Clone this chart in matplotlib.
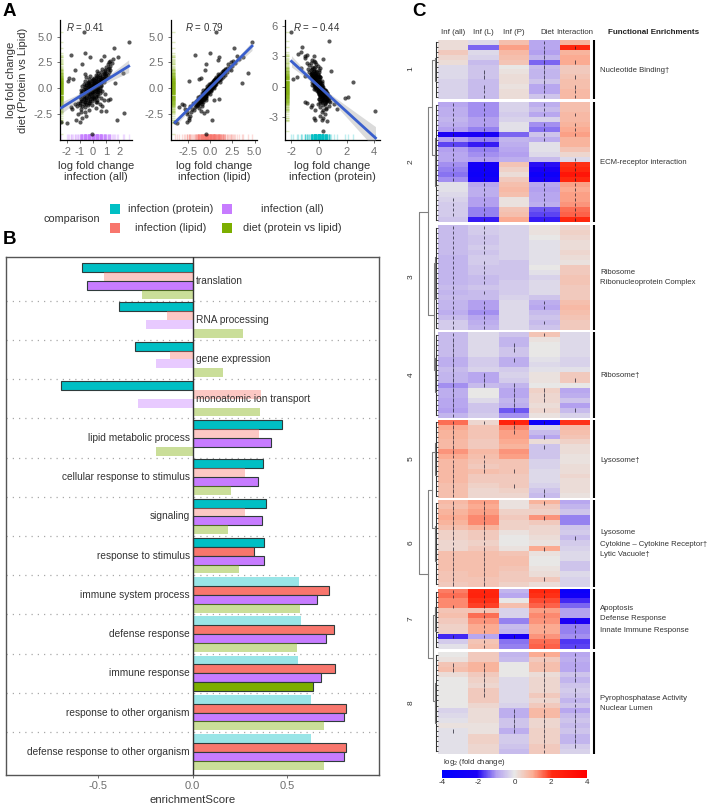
import matplotlib

matplotlib.use("Agg")
import matplotlib.pyplot as plt
import numpy as np
from matplotlib.colors import LinearSegmentedColormap, to_rgba
from matplotlib.cm import ScalarMappable
from matplotlib.colors import Normalize
from matplotlib.patches import Rectangle

plt.rcParams["font.family"] = ["Liberation Sans", "DejaVu Sans"]
plt.rcParams["axes.unicode_minus"] = False
plt.rcParams["mathtext.fontset"] = "custom"
plt.rcParams["mathtext.rm"] = "Liberation Sans"
plt.rcParams["mathtext.it"] = "Liberation Sans:italic"

# panel A, one value per gene
diet = [5.4, 4.5, 3.9, 3.4, 3.2, 3.1, 3.0, 3.0, 2.8, 2.7, -3.3, -3.4, -3.1, -3.1, -3.3, -2.4, -4.4,
        0.5, -1.0, -1.1, -1.7, -2.2, 0.7, 0.9, -1.6, -1.5, 1.0, -2.2, 1.8, 1.5, -2.0, -2.3, -1.8, 2.3,
        2.6, 2.5, 2.4, 2.3, 2.2, 2.1, 2.0, 1.9, 1.8, 1.8, 1.7, 1.6, 1.5, 1.5, 1.4, 1.4, 1.3, 1.2, 1.2, 1.1,
        1.1, 1.0, 1.0, 0.9, 0.9, 0.8, 0.8, 0.8, 0.7, 0.7, 0.6, 0.6, 0.6, 0.5, 0.5, 0.5, 0.4, 0.4, 0.4, 0.3,
        0.3, 0.3, 0.2, 0.2, 0.2, 0.1, 0.1, 0.1, 0.0, 0.0, 0.0, -0.1, -0.1, -0.1, -0.2, -0.2, -0.2, -0.3, -0.3, -0.3,
        -0.4, -0.4, -0.4, -0.5, -0.5, -0.5, -0.6, -0.6, -0.6, -0.7, -0.7, -0.7, -0.8, -0.8, -0.8, -0.9, -0.9, -0.9,
        -1.0, -1.0, -1.1, -1.1, -1.2, -1.2, -1.3, -1.3, -1.4, -1.4, -1.5, -1.5, -1.6, -1.7, -1.8, -1.9, -2.0, -2.1,
        -2.3, -2.5, -2.7, -2.9,
        1.9, 1.7, 1.6, 1.5, 1.4, 1.3, 1.3, 1.2, 1.2, 1.1,
        1.1, 1.0, 1.0, 0.9, 0.9, 0.9, 0.8, 0.8, 0.7, 0.7,
        0.7, 0.6, 0.6, 0.6, 0.5, 0.5, 0.5, 0.4, 0.4, 0.4,
        0.3, 0.3, 0.3, 0.2, 0.2, 0.2, 0.1, 0.1, 0.1, 0.0,
        0.0, 0.0, -0.1, -0.1, -0.1, -0.2, -0.2, -0.2, -0.3, -0.3,
        -0.3, -0.4, -0.4, -0.4, -0.5, -0.5, -0.5, -0.6, -0.6, -0.6,
        -0.7, -0.7, -0.7, -0.8, -0.8, -0.9, -0.9, -1.0, -1.0, -1.1,
        -1.1, -1.2, -1.2, -1.3, -1.3, -1.4, -1.4, -1.5, -1.6, -1.7]
inf_all = [-0.7, 2.7, 1.6, -0.6, -1.7, 0.8, 1.9, -0.2, 1.5, 0.6, -2.4, -2.0, -1.3, 1.8, -1.0, 2.35, -0.1,
           1.7, 1.3, 1.1, 0.7, 1.0, -1.9, -1.5, -1.0, -1.4, -1.8, 0.6, -1.4, 2.3, -1.6, -0.9, -1.7, -0.8,
           1.3, 1.2, 1.4, 1.1, 1.3, 1.0, 1.2, 0.7, 0.9, 1.3, 0.3, 0.6, 1.0, 0.4, -0.6, 0.8, 0.2, 1.0, -0.2, 0.5,
           -0.5, 0.7, 0.1, -0.3, 0.4, 0.6, -0.1, 0.2, -0.6, 0.5, 0.1, -0.3, 0.8, 0.3, -0.4, 0.0, -0.7, 0.4, 0.1, -0.2,
           0.6, -0.5, 0.2, -0.1, -0.8, 0.3, 0.0, -0.4, 0.5, -0.2, 0.1, -0.6, 0.2, -0.1, 0.4, -0.3, -0.9, 0.1, -0.4, 0.7,
           -0.1, -0.6, 0.3, -0.2, -0.8, 0.5, 0.0, -0.4, 0.9, -0.1, -0.7, 0.4, -0.3, 0.2, -1.0, -0.5, 0.6, -0.1,
           -0.7, 0.1, -0.4, 0.8, -0.9, -0.2, -0.6, 0.3, -1.1, -0.3, -0.7, 0.5, -0.4, -1.2, -0.6, 0.2, -0.9, -0.3,
           -0.6, -1.1, -0.5, -0.8,
           1.1, 0.9, 1.2, 0.8, 0.9, 1.1, 0.5, 0.7, 0.3, 0.9,
           0.4, 0.8, 0.2, 0.6, 0.0, 0.9, 0.5, 0.1, 0.7, 0.3,
           -0.1, 0.5, 0.2, -0.4, 0.6, 0.1, -0.2, 0.5, 0.2, -0.3,
           0.4, 0.0, -0.5, 0.6, 0.1, -0.3, 0.3, -0.1, -0.6, 0.4,
           0.0, -0.4, 0.3, -0.2, -0.7, 0.5, 0.0, -0.5, 0.2, -0.3,
           -0.8, 0.4, -0.1, -0.5, 0.1, -0.4, -0.9, 0.3, -0.2, -0.6,
           0.2, -0.3, -0.8, 0.0, -0.5, 0.1, -0.7, -0.2, -0.9, 0.3,
           -0.5, -0.1, -0.8, 0.2, -0.6, -0.3, -1.0, -0.5, -0.1, -0.8]
inf_lipid = [0.7, 4.7, 2.7, 0.0, -1.7, 3.0, 3.7, 1.0, 3.3, 0.9, -3.9, -3.7, -2.4, 0.2, -2.6, -0.7, -0.5,
             3.6, 1.0, 0.4, -0.9, -0.3, -2.4, -1.2, -2.9, -3.1, -1.0, -1.0, -0.6, 4.3, -2.8, -2.6, -3.5, -0.5,
             2.6, 2.3, 2.8, 2.0, 2.5, 2.2, 1.9, 2.1, 1.7, 2.4, 1.5, 1.9, 1.4, 1.6, 0.9, 1.3, 1.7, 1.0, 1.2, 1.5,
             0.7, 1.1, 0.9, 0.6, 1.2, 1.0, 0.6, 0.9, 0.3, 0.8, 0.7, 0.4, 1.1, 0.5, 0.1, 0.6, -0.1, 0.7, 0.4, 0.3,
             0.6, 0.0, 0.4, 0.1, -0.3, 0.3, 0.0, -0.2, 0.4, -0.1, 0.1, -0.4, 0.0, -0.2, 0.1, -0.3, -0.8, -0.2, -0.5, 0.1,
             -0.3, -0.7, -0.2, -0.5, -0.9, -0.2, -0.5, -0.8, 0.0, -0.6, -1.1, -0.4, -0.9, -0.6, -1.4, -1.0, -0.5, -0.8,
             -1.3, -0.7, -1.1, -0.4, -1.6, -1.0, -1.4, -0.8, -1.9, -1.2, -1.6, -0.9, -1.5, -2.2, -1.7, -1.2, -2.0, -1.8,
             -2.1, -2.6, -2.2, -2.4,
             1.7, 1.4, 1.6, 1.2, 1.5, 1.0, 1.3, 1.1, 1.2, 0.9,
             1.0, 1.1, 0.8, 0.9, 0.6, 1.0, 0.8, 0.5, 0.8, 0.5,
             0.4, 0.7, 0.4, 0.3, 0.6, 0.3, 0.2, 0.5, 0.3, 0.1,
             0.4, 0.2, 0.0, 0.3, 0.1, 0.0, 0.2, 0.0, -0.1, 0.2,
             0.0, -0.2, 0.1, -0.2, -0.3, 0.0, -0.2, -0.4, -0.1, -0.4,
             -0.6, -0.2, -0.4, -0.6, -0.3, -0.5, -0.7, -0.4, -0.6, -0.8,
             -0.5, -0.7, -0.9, -0.6, -0.8, -0.7, -1.0, -0.9, -1.2, -0.8,
             -1.1, -1.0, -1.3, -1.0, -1.3, -1.2, -1.5, -1.4, -1.3, -1.6]
inf_protein = [-2.0, 0.7, -1.2, -1.3, -1.5, -0.9, -1.0, -0.4, -1.0, 0.3, -0.3, 0.6, -0.4, 0.3, 0.2, 4.1, 0.3,
               2.5, 2.1, 1.9, 1.1, 1.3, -1.9, -1.6, -0.9, -1.0, -1.0, 0.5, -1.3, 0.9, -0.6, -0.3, -0.5, -0.9,
               -0.5, -0.4, -0.3, -0.6, -0.2, -0.7, -0.1, -0.5, -0.4, 0.1, -0.8, -0.6, -0.2, -0.4, -0.7, 0.0, -0.5, -0.3, -0.6, -0.1,
               -0.5, -0.2, -0.4, -0.6, 0.1, -0.3, -0.2, -0.5, -0.4, 0.0, -0.3, -0.1, 0.2, -0.2, -0.4, 0.1, -0.3, -0.1, 0.2, -0.2,
               0.1, -0.4, 0.0, -0.1, -0.5, 0.2, -0.1, -0.3, 0.1, 0.0, -0.2, -0.2, 0.2, 0.0, 0.3, -0.1, -0.4, 0.1, 0.0, 0.4,
               0.2, -0.1, 0.3, 0.1, -0.1, 0.4, 0.2, 0.1, 0.6, 0.3, 0.0, 0.5, 0.2, 0.4, 0.1, 0.1, 0.6, 0.3,
               0.2, 0.5, 0.3, 0.7, 0.0, 0.4, 0.3, 0.6, 0.1, 0.5, 0.2, 0.8, 0.4, -0.1, 0.3, 0.7, 0.1, 0.5,
               0.3, 0.2, 0.4, 0.1,
               -0.3, -0.5, 0.0, -0.4, -0.2, -0.5, -0.3, -0.1, -0.6, -0.2,
               -0.4, 0.0, -0.3, -0.5, -0.1, 0.1, -0.4, -0.2, -0.5, 0.0,
               -0.3, -0.1, -0.4, -0.2, 0.1, -0.3, -0.5, 0.0, -0.2, -0.4,
               0.1, -0.1, -0.3, 0.2, 0.0, -0.2, 0.1, -0.4, -0.1, 0.3,
               -0.2, 0.0, 0.2, -0.3, 0.1, 0.3, -0.1, 0.0, 0.4, -0.2,
               0.1, 0.5, -0.1, 0.2, 0.3, 0.0, 0.4, 0.6, 0.1, 0.2,
               0.4, 0.0, 0.5, 0.2, 0.6, 0.3, 0.7, 0.1, 0.4, 0.7,
               0.2, 0.5, 0.0, 0.6, 0.3, 0.7, 0.2, 0.5, 0.1, 0.4]

scatter_xlabels = ["infection (all)", "infection (lipid)", "infection (protein)"]
scatter_r = ["0.41", "0.79", "\u2212 0.44"]

# panel B
terms = ["translation", "RNA processing", "gene expression", "monoatomic ion transport",
         "lipid metabolic process", "cellular response to stimulus", "signaling", "response to stimulus",
         "immune system process", "defense response", "immune response", "response to other organism",
         "defense response to other organism"]
es_protein = [-0.585, -0.39, -0.306, -0.698, 0.472, 0.375, 0.389, 0.38, 0.564, 0.572, 0.56, 0.625, 0.625]
es_lipid = [-0.47, -0.138, -0.12, 0.362, 0.35, 0.279, 0.279, 0.325, 0.721, 0.751, 0.753, 0.813, 0.813]
es_all = [-0.558, -0.247, -0.194, -0.292, 0.415, 0.346, 0.366, 0.376, 0.657, 0.705, 0.678, 0.80, 0.80]
es_diet = [-0.268, 0.265, 0.159, 0.359, -0.194, 0.201, 0.189, 0.246, 0.569, 0.553, 0.636, 0.694, 0.694]
sig_protein = [1, 1, 1, 1, 1, 1, 1, 1, 0, 0, 0, 0, 0]
sig_lipid = [0, 0, 0, 0, 0, 0, 0, 1, 1, 1, 1, 1, 1]
sig_all = [1, 0, 0, 0, 1, 1, 1, 1, 1, 1, 1, 1, 1]
sig_diet = [0, 0, 0, 0, 0, 0, 0, 0, 0, 0, 1, 0, 0]

comparisons = ["infection (protein)", "infection (lipid)", "infection (all)", "diet (protein vs lipid)"]
colors = ["#00BFC4", "#F8766D", "#C77CFF", "#7CAE00"]

# panel C, columns are Inf (all), Inf (L), Inf (P), Diet, Interaction
heat_columns = ["Inf (all)", "Inf (L)", "Inf (P)", "Diet", "Interaction"]
cluster1 = [[0.2, -0.2, 0.7, -0.9, 0.9], [0.2, -1.4, 1.1, -0.9, 2.2], [0.5, -0.2, 0.8, -1.0, 0.9],
            [0.3, -0.3, 0.7, -0.7, 1.0], [0.2, -0.6, 0.6, -1.4, 1.0], [-0.2, -0.5, 0.0, -0.6, 0.5],
            [-0.2, -0.5, 0.1, -0.7, 0.5], [-0.2, -0.5, 0.2, -0.7, 0.6], [-0.3, -0.6, 0.2, -0.5, 0.7],
            [-0.3, -0.6, 0.1, -0.9, 0.7], [-0.3, -0.6, 0.2, -0.9, 0.8], [-0.3, -0.6, 0.2, -0.5, 0.8]]
cluster2 = [[-0.9, -1.1, -0.3, -0.8, 0.7], [-0.8, -1.1, -0.3, -0.6, 0.7], [-0.8, -1.1, -0.4, -0.9, 0.8],
            [-0.7, -1.0, -0.3, -0.3, 0.8], [-0.8, -1.0, -0.1, -1.1, 0.9], [-1.0, -1.2, -0.1, -1.3, 1.0],
            [-2.1, -2.3, -1.4, -0.5, 1.1], [-1.0, -1.2, -0.7, -0.8, 0.9], [-1.6, -1.9, -0.8, -0.1, 0.9],
            [-1.0, -1.2, -0.9, -0.1, 0.6], [-0.9, -1.1, -1.0, -0.2, 0.3], [-0.9, -1.0, -0.8, -0.6, -0.2],
            [-1.1, -2.6, 0.6, -2.0, 2.0], [-1.2, -2.8, 0.4, -2.2, 2.2], [-1.3, -3.0, 0.2, -3.0, 3.0],
            [-1.1, -2.6, 0.5, -2.3, 2.2], [-0.1, -0.9, 0.7, -0.9, 1.1], [-0.1, -0.8, 0.8, -1.0, 1.0],
            [-0.2, -0.8, 0.7, -0.9, 1.1], [-0.3, -1.0, 0.1, -0.9, 1.1], [-0.4, -1.0, 0.1, -0.8, 1.2],
            [-0.4, -1.2, 0.6, -1.5, 1.5], [-0.4, -1.2, 0.7, -1.6, 1.6], [-0.5, -1.9, 1.0, -1.9, 2.1]]
cluster3 = [[-0.6, -0.4, -0.3, 0.1, 0.3], [-0.6, -0.4, -0.3, 0.1, 0.4], [-0.6, -0.5, -0.3, 0.0, 0.3],
            [-0.6, -0.5, -0.3, -0.1, 0.2], [-0.6, -0.4, -0.3, -0.1, 0.2], [-0.6, -0.5, -0.3, -0.1, 0.3],
            [-0.7, -0.4, -0.3, -0.1, 0.2], [-0.7, -0.4, -0.5, -0.1, 0.1], [-0.7, -0.5, -0.5, 0.0, 0.5],
            [-0.7, -0.5, -0.5, -0.1, 0.5], [-0.7, -0.6, -0.5, -0.3, 0.6], [-0.7, -0.6, -0.4, -0.2, 0.6],
            [-0.6, -0.5, -0.4, -0.2, 0.5], [-0.7, -0.6, -0.4, -0.2, 0.5], [-0.6, -0.6, -0.3, -0.5, 0.5],
            [-0.7, -1.0, -0.2, -0.8, 0.7], [-0.7, -1.0, -0.2, -0.9, 0.8], [-0.8, -1.1, -0.2, -0.6, 0.7],
            [-0.6, -0.9, -0.2, -0.5, 0.6], [-0.4, -0.8, -0.2, -0.6, 0.5], [-0.4, -0.7, -0.2, -0.5, 0.5]]
cluster4 = [[-0.6, -0.2, -0.5, 0.6, -0.2], [-0.6, -0.2, -0.7, 0.1, -0.2], [-0.6, -0.2, -0.7, 0.0, -0.2],
            [-0.6, -0.2, -0.5, 0.0, -0.2], [-0.6, -0.2, -0.5, 0.0, -0.2], [-0.8, -0.4, -0.8, -0.1, -0.3],
            [-0.8, -0.4, -0.8, -0.2, -0.3], [-0.6, -0.3, -0.4, -0.1, -0.1], [-0.7, -0.9, -0.3, 0.1, 0.5],
            [-0.7, -0.9, -0.4, 0.1, 0.5], [-1.1, -0.6, -0.7, 0.0, 0.0], [-0.8, 0.0, -0.9, 0.4, -0.9],
            [-0.8, 0.0, -0.9, 0.3, -0.8], [-0.9, -0.2, -0.7, 0.3, -0.5], [-0.9, -0.5, -0.8, 0.2, -1.0],
            [-1.0, -0.5, -1.5, 0.3, -0.6], [-0.7, -0.4, -1.1, 0.1, -0.3]]
cluster5 = [[1.5, 0.3, 2.4, -3.0, 2.0], [1.0, 0.6, 1.3, -0.3, 0.8], [0.9, 0.6, 1.1, -0.6, 0.7],
            [0.9, 0.6, 1.1, -0.9, 0.6], [0.8, 0.5, 1.0, 0.2, 0.4], [0.8, 0.5, 0.9, -0.5, 0.2],
            [1.2, 0.8, 1.2, -0.5, 0.2], [1.0, 0.7, 1.1, -0.5, 0.1], [0.8, 0.6, 0.6, -0.3, 0.1],
            [0.8, 0.5, 0.6, -0.3, 0.2], [0.8, 0.7, 0.6, -0.2, 0.2], [0.8, 0.5, 0.5, -0.2, 0.3],
            [0.8, 0.5, 0.5, -0.2, 0.2], [0.7, 0.4, 0.5, -0.3, 0.2], [0.7, 0.3, 0.4, -0.5, 0.2],
            [0.7, 0.3, 0.3, -0.6, 0.1]]
cluster6 = [[0.8, 1.1, 0.1, 0.9, -0.9], [0.7, 1.0, 0.1, 0.5, -0.7], [0.9, 1.1, 0.4, 0.4, -0.5],
            [1.0, 1.3, 0.5, 1.2, -1.2], [0.9, 1.3, 0.4, 0.5, -1.2], [0.7, 0.9, 0.4, 0.3, -0.5],
            [0.4, 0.5, 0.1, 0.3, -0.4], [0.4, 0.5, 0.0, 0.2, -0.6], [0.3, 0.4, 0.0, 0.1, -0.4],
            [0.3, 0.5, 0.1, 1.0, -0.3], [0.7, 0.7, 0.6, 0.1, -0.2], [0.7, 0.7, 0.7, 0.0, -0.2],
            [0.7, 0.7, 0.7, 0.0, -0.5], [0.7, 0.7, 0.6, 0.1, -0.5], [0.6, 0.7, 0.5, 0.2, -0.2],
            [0.6, 0.6, 0.5, 0.5, -0.3], [0.5, 0.6, 0.4, 0.2, -0.3]]
cluster7 = [[1.4, 2.3, -0.7, 2.2, -3.2], [1.5, 2.4, -0.9, 2.0, -2.8], [1.3, 2.0, 0.0, 1.8, -1.8],
            [1.3, 1.9, 0.7, 1.6, -1.4], [0.6, 0.6, -0.3, 1.1, -1.0], [0.7, 1.5, -0.3, 1.3, -1.0],
            [0.5, 1.2, -1.2, 1.2, -2.2], [0.4, 1.0, -0.6, 1.0, -1.2], [0.4, 1.0, -0.7, 1.0, -1.2],
            [-1.8, -0.9, -2.3, 1.2, -1.1], [-0.4, 0.6, -1.3, 1.5, -1.7], [-0.1, 0.7, -1.2, 1.6, -1.6]]
cluster8 = [[0.0, 0.5, -0.7, 1.0, -0.9], [0.1, 0.5, -0.6, 0.5, -0.8], [0.6, 0.9, 0.0, 0.7, -0.9],
            [0.7, 0.9, 0.0, 0.7, -0.9], [0.2, 0.5, 0.0, 0.2, -0.5], [0.0, 0.4, -0.2, 0.3, -0.7],
            [0.0, 0.3, -0.2, 0.3, -0.5], [0.0, 0.5, -0.2, 0.3, -0.4], [0.0, 0.5, -0.2, 0.5, -0.5],
            [0.0, 0.5, -0.2, 0.3, -0.7], [0.0, 0.3, -0.3, 0.5, -0.5], [-0.3, 0.2, -0.8, 0.8, -0.9],
            [-0.2, 0.2, -0.8, 0.8, -0.6], [-0.1, 0.2, -0.5, 0.3, -0.5], [0.1, 0.1, -0.5, 0.3, -0.6],
            [-0.1, 0.1, -0.8, 0.4, -0.5], [-0.1, 0.4, -0.4, 0.4, -0.7], [-0.1, 0.4, -0.4, 0.4, -0.7],
            [-0.1, 0.3, -0.5, 0.5, -0.4], [-0.1, 0.3, -0.6, 0.5, -0.3]]
clusters = [cluster1, cluster2, cluster3, cluster4, cluster5, cluster6, cluster7, cluster8]

# per row, which of the five cells carries a significance mark
sig1 = ["00010", "00011", "00010", "00010", "00011", "00010", "01010", "01011", "00010", "01011", "01011", "01011"]
sig2 = ["11010", "11010", "11011", "11000", "11011", "11011", "11011", "11010", "11000", "11000", "11000", "11001",
        "11011", "11011", "11011", "11011", "01011", "01011", "01011", "11011", "11011", "11011", "11011", "01011"]
sig3 = ["11000", "11000", "11000", "11000", "11000", "11000", "10000", "11000", "11000", "11000", "11000", "11000",
        "10000", "11000", "10000", "11010", "11010", "11000", "11000", "11010", "11000"]
sig4 = ["10010", "10000", "10100", "10100", "10000", "10100", "10000", "10000", "11000", "11001", "11100", "10110",
        "10110", "10110", "10100", "10111", "10000"]
sig5 = ["11110", "10100", "10100", "10010", "10000", "10010", "10000", "11000", "11000", "11000", "11100", "10000",
        "10000", "10100", "10010", "10010"]
sig6 = ["11010", "11000", "11000", "11010", "11000", "11000", "11000", "11001", "11000", "11010", "11000", "11000",
        "11000", "11000", "11000", "11010", "11000"]
sig7 = ["11010", "11010", "01010", "11010", "01010", "01010", "01011", "01011", "01011", "11111", "01010", "01011"]
sig8 = ["00011", "00011", "11011", "11011", "01011", "01011", "01010", "01011", "01011", "00011", "00011", "00111",
        "00111", "00111", "00111", "10111", "00011", "00011", "00011", "00010"]
cluster_sig = [sig1, sig2, sig3, sig4, sig5, sig6, sig7, sig8]

cluster_spans = [(40, 99), (102, 222), (225, 330), (332, 418), (420, 498), (500, 587), (589, 649), (652, 754)]
cluster_number_y = [69, 162, 277, 375, 459, 543, 619, 703]

# (text, y pixel)
enrichments = [("Nucleotide Binding\u2020", 70), ("ECM-receptor interaction", 162), ("Ribosome", 272),
               ("Ribonucleoprotein Complex", 283), ("Ribosome\u2020", 376), ("Lysosome\u2020", 460),
               ("Lysosome", 532), ("Cytokine \u2013 Cytokine Receptor\u2020", 544), ("Lytic Vacuole\u2020", 554),
               ("Apoptosis", 609), ("Defense Response", 619), ("Innate Immune Response", 630),
               ("Pyrophosphatase Activity", 698), ("Nuclear Lumen", 709)]

# parent x, top y, bottom y, child x top, child x bottom
tree_links = [(419, 212, 574, 428, 428), (428, 107, 315, 432, 434), (428, 490, 658, 432, 433),
              (432, 60, 155, 435, 435), (434, 263, 370, 435, 435), (432, 452, 528, 435, 435),
              (433, 615, 701, 435, 435)]

W, H = 709, 807
TICK_GREY = "#6e6e6e"
TEXT_DARK = "#333333"


def px_axes(left, top, right, bottom):
    return fig.add_axes([left / W, 1 - bottom / H, (right - left) / W, (bottom - top) / H])


def draw_scatter(ax, x, y, color, xlabel, r_text, r_x, xticks, xticklabels, xlim, yticks, yticklabels, ylim):
    x = np.array(x)
    y = np.array(y)
    ax.scatter(x, y, s=9, color="black", alpha=0.65, linewidths=0, zorder=3)
    ax.vlines(x, 0, 0.05, transform=ax.get_xaxis_transform(), color=color, alpha=0.25, lw=1)
    ax.hlines(y, 0, 0.045, transform=ax.get_yaxis_transform(), color="#7CAE00", alpha=0.25, lw=1)

    slope, intercept = np.polyfit(x, y, 1)
    xs = np.linspace(x.min(), x.max(), 50)
    fit = slope * xs + intercept
    resid = y - (slope * x + intercept)
    se = np.sqrt(resid.var() * (1 / len(x) + (xs - x.mean()) ** 2 / ((x - x.mean()) ** 2).sum()))
    ax.fill_between(xs, fit - 1.96 * se, fit + 1.96 * se, color="#999999", alpha=0.35, lw=0, zorder=4)
    ax.plot(xs, fit, color="#3A5FCD", lw=2, zorder=5)

    ax.set_xlim(xlim)
    ax.set_ylim(ylim)
    ax.set_xticks(xticks, xticklabels)
    ax.set_yticks(yticks, yticklabels)
    ax.tick_params(labelsize=8, colors=TICK_GREY, length=2, width=0.7, pad=3)
    for side in ["top", "right"]:
        ax.spines[side].set_visible(False)
    for side in ["left", "bottom"]:
        ax.spines[side].set_linewidth(0.9)
    ax.set_xlabel("log fold change\n" + xlabel, fontsize=8, color=TEXT_DARK, labelpad=3, linespacing=1.15)
    ax.text(r_x, 0.945, r"$\mathit{R}$ = " + r_text, transform=ax.transAxes, fontsize=7,
            color=TEXT_DARK, va="center", ha="left")


fig = plt.figure(figsize=(W / 100, H / 100), dpi=100)

# A
ax1 = px_axes(60, 20, 132, 140)
draw_scatter(ax1, inf_all, diet, colors[2], scatter_xlabels[0], scatter_r[0], 0.08,
             [-2, -1, 0, 1, 2], ["-2", "-1", "0", "1", "2"], (-2.5, 2.95),
             [-2.5, 0, 2.5, 5], ["-2.5", "0.0", "2.5", "5.0"], (-5.0, 6.6))
ax1.set_ylabel("log fold change\ndiet (Protein vs Lipid)", fontsize=8, color=TEXT_DARK, labelpad=4, linespacing=1.25)
ax2 = px_axes(171, 20, 257, 140)
draw_scatter(ax2, inf_lipid, diet, colors[1], scatter_xlabels[1], scatter_r[1], 0.16,
             [-2.5, 0, 2.5, 5], ["-2.5", "0.0", "2.5", "5.0"], (-4.37, 5.26),
             [-2.5, 0, 2.5, 5], ["-2.5", "0.0", "2.5", "5.0"], (-5.0, 6.6))
ax3 = px_axes(285, 20, 380, 140)
draw_scatter(ax3, inf_protein, diet, colors[0], scatter_xlabels[2], scatter_r[2], 0.08,
             [-2, 0, 2, 4], ["-2", "0", "2", "4"], (-2.47, 4.43),
             [-3, 0, 3, 6], ["-3", "0", "3", "6"], (-5.3, 6.6))

# B
ax = px_axes(6, 257, 379, 775)
series = [(es_protein, sig_protein), (es_lipid, sig_lipid), (es_all, sig_all), (es_diet, sig_diet)]
bar_h = 0.2265
for j, (vals, flags) in enumerate(series):
    for i, (v, s) in enumerate(zip(vals, flags)):
        ax.barh(i + (j - 1.5) * bar_h, v, height=bar_h,
                color=to_rgba(colors[j], 1 if s else 0.4),
                edgecolor="#2f3b3b" if s else "none", linewidth=0.8 if s else 0, zorder=2)
for i in range(len(terms) - 1):
    ax.axhline(i + 0.5, color="#a8a8a8", lw=0.9, ls=(0, (1, 4)), zorder=1)
ax.axvline(0, color="#333333", lw=1.0, zorder=3)
for i, term in enumerate(terms):
    total = es_protein[i] + es_lipid[i] + es_all[i] + es_diet[i]
    if total < 0:
        ax.text(0.015, i, term, ha="left", va="center", fontsize=7.3, color=TEXT_DARK, zorder=4)
    else:
        ax.text(-0.015, i, term, ha="right", va="center", fontsize=7.3, color=TEXT_DARK, zorder=4)
ax.set_xlim(-0.99, 0.988)
ax.set_ylim(len(terms) - 1 + 0.59, -0.61)
ax.set_yticks([])
ax.set_xticks([-0.5, 0, 0.5], ["-0.5", "0.0", "0.5"])
ax.tick_params(axis="x", labelsize=8, colors=TICK_GREY, length=2, width=0.7, pad=2.5)
for spine in ax.spines.values():
    spine.set_color("#555555")
    spine.set_linewidth(1.0)
ax.set_xlabel("enrichmentScore", fontsize=8.2, color=TEXT_DARK, x=(192.7 - 6) / (379 - 6), labelpad=3)

# C
heat_cmap = LinearSegmentedColormap.from_list(
    "fc", [(0.0, "#0000FF"), (0.24, "#1C00F5"), (0.375, "#B3A0F0"), (0.5, "#E8E8E8"),
           (0.625, "#FBAE95"), (0.76, "#FF2A10"), (1.0, "#FF0000")])
for rows, flags, (top, bottom) in zip(clusters, cluster_sig, cluster_spans):
    hx = px_axes(438, top, 590, bottom)
    hx.imshow(np.array(rows), cmap=heat_cmap, vmin=-4, vmax=4, aspect="auto", interpolation="nearest")
    for r, flag in enumerate(flags):
        for c, mark in enumerate(flag):
            if mark == "1":
                hx.vlines(c, r - 0.38, r + 0.38, color="#1a1a2a", lw=0.7, alpha=0.7)
    hx.axis("off")

cax = px_axes(442, 770, 587, 778)
cbar = fig.colorbar(ScalarMappable(Normalize(-4, 4), heat_cmap), cax=cax, orientation="horizontal",
                    ticks=[-4, -2, 0, 2, 4])
cbar.ax.set_xticklabels(["-4", "-2", "0", "2", "4"])
cbar.ax.tick_params(labelsize=5.8, length=0, pad=1, colors=TEXT_DARK)
cbar.outline.set_visible(False)

# everything placed by pixel: legend of A, panel letters, dendrogram, annotations of C
ov = px_axes(0, 0, W, H)
ov.set_xlim(0, W)
ov.set_ylim(H, 0)
ov.axis("off")
ov.patch.set_alpha(0)

for letter, x, y in [("A", 3, 11), ("B", 3, 240), ("C", 412, 11)]:
    ov.text(x, y, letter, fontsize=13.5, fontweight="bold", color="black", ha="left", va="center")

ov.text(43, 219, "comparison", fontsize=7.8, color=TEXT_DARK, ha="left", va="center")
legend_slots = [(115, 209, 171), (115, 228, 171), (227, 209, 292), (227, 228, 292)]
for (bx, by, tx), name, col in zip(legend_slots, comparisons, colors):
    ov.add_patch(Rectangle((bx - 5, by - 5), 10, 10, color=col, lw=0))
    ov.text(tx, by, name, fontsize=7.8, color=TEXT_DARK, ha="center", va="center")

col_w = (590 - 438) / 5
for i, name in enumerate(heat_columns):
    ov.text(438 + col_w * (i + 0.5) + (3 if i == 3 else 0), 32, name, fontsize=5.7, color=TEXT_DARK, ha="center", va="center")
ov.text(608, 32, "Functional Enrichments", fontsize=5.8, fontweight="bold", color="#222222", ha="left", va="center")

for k, ((top, bottom), num_y) in enumerate(zip(cluster_spans, cluster_number_y)):
    ov.plot([594, 594], [top, bottom], color="black", lw=1.5, solid_capstyle="butt")
    ov.text(411, num_y, str(k + 1), rotation=90, fontsize=6, color=TEXT_DARK, ha="center", va="center")
    n = len(clusters[k])
    centers = np.linspace(top, bottom, 2 * n + 1)[1::2]
    ov.hlines(centers, 436.3, 438, color="#222222", lw=0.6)
    ov.plot([436.3, 436.3], [centers[0], centers[-1]], color="#333333", lw=0.8)
    ov.plot([435, 435, 436.3], [top + (bottom - top) * 0.3, top + (bottom - top) * 0.7, top + (bottom - top) * 0.7],
            color="#777777", lw=0.8)

for px, y0, y1, cx0, cx1 in tree_links:
    ov.plot([cx0, px, px, cx1], [y0, y0, y1, y1], color="#808080", lw=0.8)

for text, y in enrichments:
    ov.text(600, y, text, fontsize=5.6, color=TEXT_DARK, ha="left", va="center")

ov.text(443, 762, r"log$_2$ (fold change)", fontsize=5.6, color=TEXT_DARK, ha="left", va="center")

fig.savefig("out.png", dpi=100, facecolor="white")
